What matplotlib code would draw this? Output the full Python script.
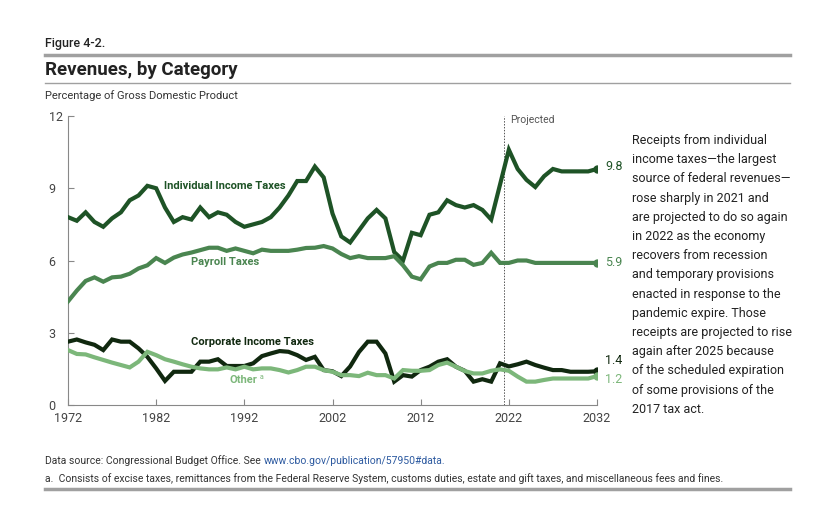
import numpy as np
import matplotlib

matplotlib.use('Agg')

import matplotlib.pyplot as plt

plt.rcParams['font.family'] = 'Roboto'

# percentage of GDP, 1972-2032 (2022 onward is projected)
years = np.arange(1972, 2033)

individual = [7.8, 7.65, 8.0, 7.6, 7.4, 7.75, 8.0, 8.5, 8.7, 9.1,
              9.0, 8.2, 7.6, 7.8, 7.7, 8.2, 7.8, 8.0, 7.9, 7.6,
              7.4, 7.5, 7.6, 7.8, 8.2, 8.7, 9.3, 9.3, 9.9, 9.45,
              7.95, 7.0, 6.75, 7.25, 7.75, 8.1, 7.75, 6.35, 6.0, 7.15,
              7.05, 7.9, 8.0, 8.5, 8.3, 8.2, 8.3, 8.1, 7.7, 9.15,
              10.6, 9.8, 9.35, 9.05, 9.5, 9.8, 9.7, 9.7, 9.7, 9.7,
              9.8]

payroll = [4.3, 4.75, 5.15, 5.3, 5.12, 5.3, 5.33, 5.45, 5.67, 5.8,
           6.1, 5.9, 6.12, 6.25, 6.33, 6.43, 6.53, 6.53, 6.4, 6.5,
           6.4, 6.3, 6.45, 6.4, 6.4, 6.4, 6.45, 6.52, 6.53, 6.6,
           6.5, 6.27, 6.1, 6.18, 6.1, 6.1, 6.1, 6.18, 5.8, 5.33,
           5.22, 5.75, 5.9, 5.9, 6.03, 6.03, 5.82, 5.9, 6.32, 5.9,
           5.9, 6.0, 6.0, 5.9, 5.9, 5.9, 5.9, 5.9, 5.9, 5.9,
           5.9]

corporate = [2.63, 2.72, 2.6, 2.5, 2.28, 2.72, 2.63, 2.63, 2.35, 2.0,
             1.52, 1.0, 1.38, 1.38, 1.38, 1.8, 1.8, 1.9, 1.62, 1.62,
             1.62, 1.73, 2.03, 2.14, 2.24, 2.21, 2.07, 1.87, 2.0, 1.45,
             1.4, 1.2, 1.6, 2.2, 2.63, 2.63, 2.14, 0.97, 1.24, 1.18,
             1.45, 1.59, 1.8, 1.9, 1.59, 1.42, 0.97, 1.07, 0.97, 1.73,
             1.6, 1.69, 1.8, 1.66, 1.55, 1.45, 1.45, 1.38, 1.38, 1.38,
             1.4]

other = [2.28, 2.12, 2.1, 1.98, 1.87, 1.76, 1.66, 1.56, 1.8, 2.21,
         2.07, 1.9, 1.8, 1.69, 1.59, 1.52, 1.48, 1.48, 1.56, 1.48,
         1.59, 1.48, 1.52, 1.52, 1.45, 1.35, 1.45, 1.59, 1.59, 1.45,
         1.38, 1.24, 1.24, 1.2, 1.34, 1.24, 1.24, 1.1, 1.45, 1.42,
         1.42, 1.45, 1.66, 1.76, 1.59, 1.41, 1.31, 1.31, 1.42, 1.48,
         1.42, 1.18, 0.97, 0.97, 1.04, 1.1, 1.1, 1.1, 1.1, 1.1,
         1.2]

series = [
    # name, values, colour, label x, label y
    ('Individual Income Taxes', individual, '#1e5326', 1989.8, 9.1),
    ('Payroll Taxes', payroll, '#4a8550', 1989.8, 5.92),
    ('Corporate Income Taxes', corporate, '#10280f', 1992.9, 2.62),
    ('Other', other, '#7cb77a', 1991.9, 1.04),
]
end_labels = ['9.8', '5.9', '1.4', '1.2']
end_offsets = [0.1, 0.0, 0.45, -0.15]

fig = plt.figure(figsize=(8.4, 5.11), dpi=100)
ax = fig.add_axes([68 / 840, 1 - 405 / 511, (597 - 68) / 840, (405 - 116) / 511])

label_texts = []
for (name, vals, col, lx, ly), lab, off in zip(series, end_labels, end_offsets):
    ax.plot(years, vals, color=col, lw=3.0, solid_joinstyle='miter', zorder=3)
    ax.plot(years[-1], vals[-1], 'o', color=col, ms=5, zorder=4)
    ax.text(years[-1] + 0.9, vals[-1] + off, lab, color=col, fontsize=9,
            va='center', ha='left')
    t = ax.text(lx, ly, name, color=col, fontsize=8, fontweight='bold',
                ha='center', va='center', zorder=5)
    label_texts.append(t)

ax.axvline(2021.5, color='#555555', lw=0.7, ls=(0, (1.5, 1.5)), zorder=2)
ax.text(2022.2, 11.85, 'Projected', color='#555555', fontsize=7.5, va='center')

ax.set_xlim(1972, 2032)
ax.set_ylim(0, 12)
ax.set_xticks(np.arange(1972, 2033, 10))
ax.set_yticks([0, 3, 6, 9, 12])
ax.tick_params(direction='in', length=4, width=0.8, color='#888888',
               labelcolor='#444444', labelsize=9)
ax.tick_params(axis='y', pad=14)
ax.tick_params(axis='x', pad=5)
for lbl in ax.get_yticklabels():
    lbl.set_horizontalalignment('left')
for s in ['top', 'right']:
    ax.spines[s].set_visible(False)
for s in ['left', 'bottom']:
    ax.spines[s].set_color('#888888')
    ax.spines[s].set_linewidth(0.8)
ax.patch.set_alpha(0)

# header and footer
fig.text(45 / 840, 1 - 43 / 511, 'Figure 4-2.', fontsize=9, fontweight='medium',
         color='#222222', va='center')
fig.add_artist(plt.Line2D([45 / 840, 790 / 840], [1 - 55 / 511] * 2,
                          color='#a0a0a0', lw=2.5))
fig.text(45 / 840, 1 - 70 / 511, 'Revenues, by Category', fontsize=13.5,
         fontweight='bold', color='#222222', va='center')
fig.add_artist(plt.Line2D([45 / 840, 790 / 840], [1 - 83 / 511] * 2,
                          color='#a0a0a0', lw=1.0))
fig.text(45 / 840, 1 - 96 / 511, 'Percentage of Gross Domestic Product',
         fontsize=8, color='#333333', va='center')

note = ('Receipts from individual\nincome taxes\u2014the largest\n'
        'source of federal revenues\u2014\nrose sharply in 2021 and\n'
        'are projected to do so again\nin 2022 as the economy\n'
        'recovers from recession\nand temporary provisions\n'
        'enacted in response to the\npandemic expire. Those\n'
        'receipts are projected to rise\nagain after 2025 because\n'
        'of the scheduled expiration\nof some provisions of the\n'
        '2017 tax act.')
fig.text(632 / 840, 1 - 134 / 511, note, fontsize=9, color='#222222',
         va='top', ha='left', linespacing=1.62)

src = fig.text(45 / 840, 1 - 461 / 511, 'Data source: Congressional Budget Office. See',
               fontsize=7.5, color='#333333', va='center')
fig.text(45 / 840, 1 - 479 / 511,
         'a.  Consists of excise taxes, remittances from the Federal Reserve System, '
         'customs duties, estate and gift taxes, and miscellaneous fees and fines.',
         fontsize=7.5, color='#333333', va='center')
fig.add_artist(plt.Line2D([45 / 840, 790 / 840], [1 - 489 / 511] * 2,
                          color='#a0a0a0', lw=2.5))

# place the link and the footnote marker right after their texts
fig.canvas.draw()
r = fig.canvas.get_renderer()
bb = src.get_window_extent(r)
fig.text((bb.x1 + 3) / 840, 1 - 461 / 511, 'www.cbo.gov/publication/57950#data.',
         fontsize=7.5, color='#2d5aa0', va='center')
bo = label_texts[3].get_window_extent(r)
fig.text((bo.x1 + 2) / 840, (bo.y1 - 3) / 511, 'a', color='#7cb77a',
         fontsize=5, ha='left', va='center')

fig.savefig('out.png', dpi=100)
